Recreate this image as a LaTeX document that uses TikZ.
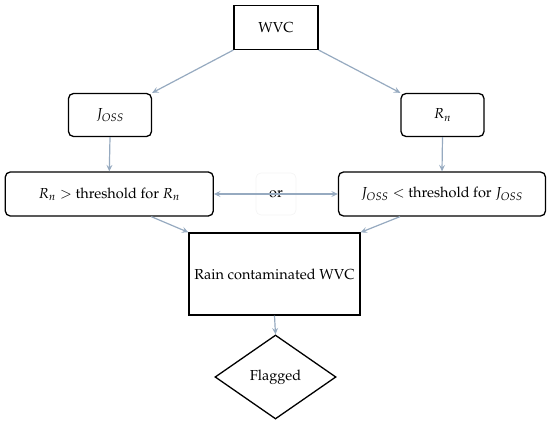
\documentclass[tikz,border=0pt]{standalone}
\usepackage[T1]{fontenc}
\usepackage{mathpazo}
\usetikzlibrary{shapes.geometric,arrows.meta,calc}
\begin{document}
\begin{tikzpicture}[x=1pt,y=-1pt,
  every node/.style={font=\fontsize{14.5}{16}\selectfont, inner sep=0pt},
  sq/.style={draw=black, line width=1.3pt},
  rbox/.style={draw=black, line width=1.3pt, rounded corners=5pt},
  conn/.style={draw={rgb,255:red,150;green,170;blue,192}, line width=1.2pt, -{Stealth[length=6.5pt,width=6pt,inset=2.5pt]}},
  conn2/.style={draw={rgb,255:red,150;green,170;blue,192}, line width=1.2pt, {Stealth[length=6.5pt,width=6pt,inset=2.5pt]}-{Stealth[length=6.5pt,width=6pt,inset=2.5pt]}}]
\useasboundingbox (0,0) rectangle (550,425);
\node[sq, minimum width=84pt, minimum height=44pt] (wvc) at (276,27.4) {WVC};
\node[rbox, minimum width=83pt, minimum height=43pt] (joss) at (110,115) {$J_{OSS}$};
\node[rbox, minimum width=83pt, minimum height=43pt] (rn) at (442.5,115) {$R_n$};
\node[rbox, minimum width=208pt, minimum height=44pt] (left) at (109.3,194) {$R_n >$ threshold for $R_n$};
\node[rbox, minimum width=207pt, minimum height=44pt] (right) at (442,194) {$J_{OSS} <$ threshold for $J_{OSS}$};
\node[draw=black!4, rounded corners=5pt, line width=0.8pt, minimum width=40pt, minimum height=42pt] (or) at (276,194) {or};
\node[sq, minimum width=171pt, minimum height=82pt] (rain) at (274.5,274) {Rain contaminated WVC};
\node[draw=black, line width=1.3pt, diamond, minimum width=121pt, minimum height=84pt, inner sep=0pt] (flag) at (275.5,377) {Flagged};
\draw[conn] (wvc.south west) -- (joss.north east);
\draw[conn] (wvc.south east) -- (rn.north west);
\draw[conn] (joss.south) -- (left.north);
\draw[conn] (rn.south) -- (right.north);
\draw[conn2] (left.east) -- (right.west);
\draw[conn] ([xshift=42pt]left.south) -- (rain.north west);
\draw[conn] ([xshift=-42pt]right.south) -- (rain.north east);
\draw[conn] (rain.south) -- (flag.north);
\end{tikzpicture}
\end{document}
